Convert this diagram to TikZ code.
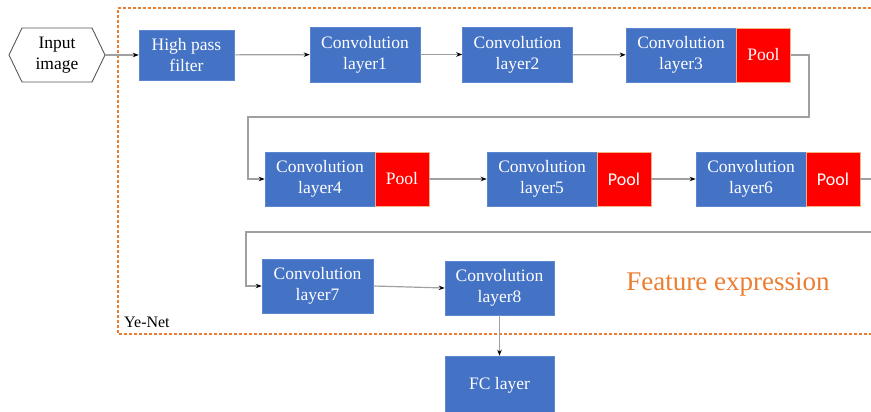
\documentclass[tikz,border=0pt]{standalone}
\usepackage{fontspec}
\setmainfont{Liberation Serif}
\newfontfamily\calfont{Carlito}
\usetikzlibrary{arrows.meta}
\definecolor{boxblue}{HTML}{4472C4}
\definecolor{boxedge}{HTML}{5B86D0}
\definecolor{poolred}{HTML}{FF0000}
\definecolor{pooledge}{HTML}{F4B183}
\definecolor{orng}{HTML}{ED7D31}
\definecolor{conn}{HTML}{A0A0A0}
\tikzset{
  blk/.style={fill=boxblue, draw=boxedge, line width=0.6pt, text=white, align=center, inner sep=0pt,
    font=\fontsize{17.5}{21}\selectfont, minimum width=110pt, minimum height=54pt},
  poolbox/.style={fill=poolred, draw=pooledge, line width=0.6pt, text=white, align=center, inner sep=0pt,
    font=\fontsize{17.5}{21}\selectfont, minimum width=54pt, minimum height=54pt},
  conline/.style={draw=conn, line width=1.2pt},
  arr/.style={conline, -{Stealth[length=6pt,width=4.5pt,color=black]}},
}
\begin{document}
\begin{tikzpicture}[x=1pt,y=-1pt]
\useasboundingbox (0,0) rectangle (871,412);
\fill[white] (0,0) rectangle (871,412);
% dashed frame
\draw[orng, line width=1.2pt, dash pattern=on 3pt off 2pt] (871,8) -- (118,8) -- (118,334) -- (871,334);
% input hexagon
\draw[draw=black!65, fill=white, line width=0.9pt] (9,55) -- (22,28) -- (92,28) -- (105,55) -- (92,82) -- (22,82) -- cycle;
\node[align=center, font=\fontsize{17.5}{21}\selectfont, inner sep=0pt, minimum width=96pt, minimum height=54pt] (in) at (57,55) {Input\\image};
% row 1
\node[blk, minimum width=95pt, minimum height=50pt] (hpf) at (186.5,55) {High pass\\filter};
\node[blk, minimum height=55pt] (c1) at (365,54.5) {Convolution\\layer1};
\node[blk, minimum height=55pt] (c2) at (517.5,54.5) {Convolution\\layer2};
\node[blk] (c3) at (681,55) {Convolution\\layer3};
\node[poolbox] (p3) at (763.5,55) {Pool};
% row 2
\node[blk] (c4) at (320,179) {Convolution\\layer4};
\node[poolbox] (p4) at (402,179) {Pool};
\node[blk] (c5) at (542,179) {Convolution\\layer5};
\node[poolbox, font=\calfont\fontsize{18}{21}\selectfont] (p5) at (624,179) {Pool};
\node[blk] (c6) at (751,179) {Convolution\\layer6};
\node[poolbox, font=\calfont\fontsize{18}{21}\selectfont] (p6) at (833,179) {Pool};
% row 3
\node[blk, minimum width=111pt] (c7) at (317.5,286) {Convolution\\layer7};
\node[blk, minimum width=109pt] (c8) at (499.5,288) {Convolution\\layer8};
\node[blk, minimum width=109pt, minimum height=58pt] (fc) at (499.5,385) {FC layer};
% labels
\node[text=orng, font=\fontsize{27}{31}\selectfont, inner sep=0pt] (fe) at (728,284) {Feature expression};
\node[anchor=west, font=\fontsize{16}{19}\selectfont, inner sep=0pt] (ye) at (124,322) {Ye-Net};
% connectors
\coordinate (r1) at (809,55);
\coordinate (r2) at (809,117);
\coordinate (r3) at (248,117);
\coordinate (e1) at (871,179);
\coordinate (e2) at (871,232);
\coordinate (e3) at (246,232);
\draw[arr] (105,55) -- (hpf.west);
\draw[arr] (hpf) -- (c1);
\draw[arr] (c1) -- (c2);
\draw[arr] (c2) -- (c3);
\draw[arr] (p3.east) -- (r1) -- (r2) -- (r3) |- (c4.west);
\draw[arr] (p4) -- (c5);
\draw[arr] (p5) -- (c6);
\draw[conline] (p6.east) -- (e1);
\draw[arr] (e2) -- (e3) |- (c7.west);
\draw[arr] (c7.east) -- (c8.west);
\draw[arr] (c8) -- (fc);
\end{tikzpicture}
\end{document}
